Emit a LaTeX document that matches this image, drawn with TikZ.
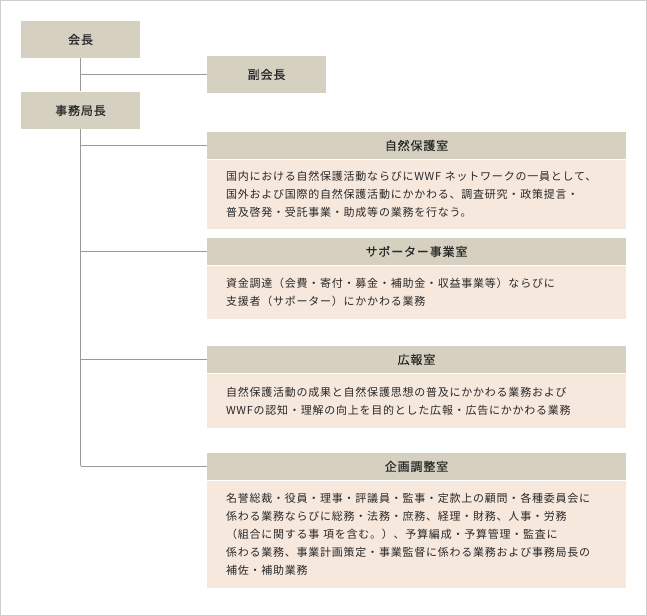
\documentclass[tikz,border=0pt]{standalone}
\usepackage{fontspec}
\setmainfont{Noto Sans CJK JP}[LetterSpace=7]
\newfontfamily\headfont{Noto Sans CJK JP}[LetterSpace=7, FakeBold=0.3]
\usetikzlibrary{positioning}

\definecolor{headfill}{RGB}{214,208,192}
\definecolor{bodyfill}{RGB}{247,232,221}
\definecolor{linegray}{RGB}{153,153,153}
\definecolor{framegray}{RGB}{206,206,206}
\definecolor{textgray}{RGB}{40,40,40}

\tikzset{every picture/.style={line width=0.75pt}}
\tikzset{
  postbox/.style={fill=headfill, text=textgray, minimum width=89.25pt, minimum height=27.75pt, inner sep=0pt, font=\headfont\fontsize{9pt}{11pt}\selectfont},
  headbox/.style={fill=headfill, text=textgray, minimum width=314.25pt, minimum height=20.25pt, inner sep=0pt, font=\headfont\fontsize{9pt}{11pt}\selectfont},
  bodybox/.style={fill=bodyfill, text=textgray, text width=285.75pt, align=left, inner xsep=14.25pt, inner ysep=0pt, font=\fontsize{8.25pt}{13.5pt}\selectfont},
  branch/.style={draw=linegray}
}

\begin{document}
\begin{tikzpicture}[x=0.75pt,y=0.75pt,yscale=-1,xscale=1]
  \useasboundingbox (0,0) rectangle (647,616);
  %Frame
  \draw [framegray] (0.5,0.5) rectangle (646.5,615.5);

  % Top posts
  \node [postbox] (kaicho) at (80.5,39.5) {会長};
  \node [postbox] (fukukaicho) at (266.5,74.5) {副会長};
  \node [postbox] (jimukyokucho) at (80.5,110.5) {事務局長};

  % Offices
  \node [headbox] (shizen head) at (416.5,145.5) {自然保護室};
  \node [bodybox, minimum height=51.75pt, below=0pt of shizen head] (shizen body) {国内における自然保護活動ならびにWWF ネットワークの一員として、\\国外および国際的自然保護活動にかかわる、調査研究・政策提言・\\普及啓発・受託事業・助成等の業務を行なう。};

  \node [headbox] (supporter head) at (416.5,251.5) {サポーター事業室};
  \node [bodybox, minimum height=39.75pt, below=0pt of supporter head] (supporter body) {資金調達（会費・寄付・募金・補助金・収益事業等）ならびに\\支援者（サポーター）にかかわる業務};

  \node [headbox] (koho head) at (416.5,359.5) {広報室};
  \node [bodybox, minimum height=40.5pt, below=0pt of koho head] (koho body) {自然保護活動の成果と自然保護思想の普及にかかわる業務および\\WWFの認知・理解の向上を目的とした広報・広告にかかわる業務};

  \node [headbox] (kikaku head) at (416.5,466.5) {企画調整室};
  \node [bodybox, minimum height=80.25pt, below=0pt of kikaku head] (kikaku body) {名誉総裁・役員・理事・評議員・監事・定款上の顧問・各種委員会に\\係わる業務ならびに総務・法務・庶務、経理・財務、人事・労務\\（組合に関する事 項を含む。）、予算編成・予算管理・監査に\\係わる業務、事業計画策定・事業監督に係わる業務および事務局長の\\補佐・補助業務};

  %Straight Lines
  \draw [branch] (kaicho.south) -- (jimukyokucho.north);
  \draw [branch] (kaicho |- fukukaicho.west) -- (fukukaicho.west);
  \draw [branch] (jimukyokucho.south) -- (jimukyokucho |- kikaku head.west);
  \draw [branch] (jimukyokucho |- shizen head.west) -- (shizen head.west);
  \draw [branch] (jimukyokucho |- supporter head.west) -- (supporter head.west);
  \draw [branch] (jimukyokucho |- koho head.west) -- (koho head.west);
  \draw [branch] (jimukyokucho |- kikaku head.west) -- (kikaku head.west);
\end{tikzpicture}
\end{document}
